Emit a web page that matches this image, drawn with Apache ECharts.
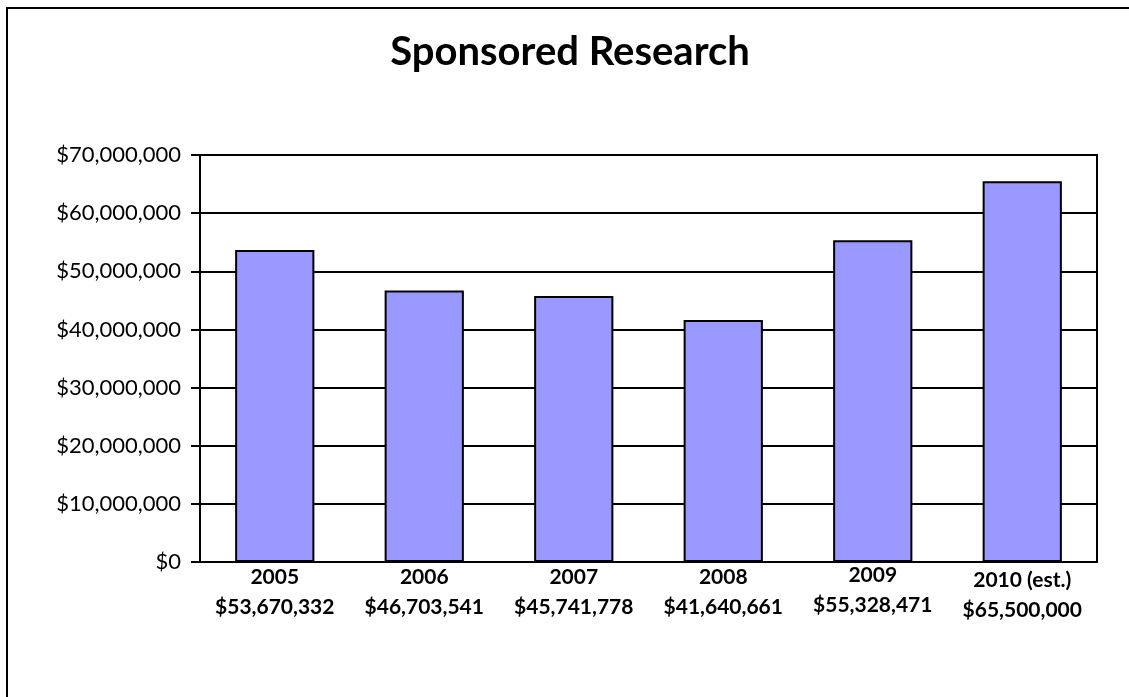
<!DOCTYPE html>
<html>
<head>
<meta charset="utf-8">
<script src="https://cdn.jsdelivr.net/npm/echarts@6/dist/echarts.min.js"></script>
<style>
html,body{margin:0;padding:0;background:#fff;}
#chart{width:1129px;height:697px;}
</style>
</head>
<body>
<div id="chart"></div>
<script>
var categories = ['2005', '2006', '2007', '2008', '2009', '2010 (est.)'];
var values = [53670332, 46703541, 45741778, 41640661, 55328471, 65500000];
var labelPads = [2, 2, 2, 2, 0, 5.5];
var yTicks = [0, 10000000, 20000000, 30000000, 40000000, 50000000, 60000000, 70000000];

function money(v) {
  return '$' + String(Math.round(v)).replace(/\B(?=(\d{3})+(?!\d))/g, ',');
}

var FONT = 'Lato, "Open Sans", sans-serif';
var chart = echarts.init(document.getElementById('chart'), null, {renderer: 'canvas'});

var catData = categories.map(function (c, i) {
  return {
    value: c + '\n' + money(values[i]),
    textStyle: {padding: [labelPads[i], 0, 0, 0]}
  };
});

chart.setOption({
  animation: false,
  backgroundColor: '#ffffff',
  title: {
    text: 'Sponsored Research',
    left: 565,
    textAlign: 'center',
    top: 27,
    textStyle: {fontFamily: FONT, fontWeight: 'bold', fontSize: 40, color: '#000'}
  },
  graphic: [{
    type: 'rect',
    shape: {x: 7, y: 8, width: 1200, height: 800},
    style: {fill: 'none', stroke: '#000', lineWidth: 2},
    silent: true
  }],
  grid: {
    left: 200, right: 32, top: 155, bottom: 135,
    show: true, borderColor: '#000', borderWidth: 2, backgroundColor: 'transparent'
  },
  xAxis: {
    type: 'category',
    data: catData,
    axisLine: {show: true, lineStyle: {color: '#000', width: 2}},
    axisTick: {show: false},
    axisLabel: {
      interval: 0,
      margin: -2,
      color: '#000',
      fontFamily: FONT,
      fontWeight: 'bold',
      fontSize: 21,
      lineHeight: 30
    }
  },
  yAxis: {
    type: 'value',
    min: 0,
    max: 70000000,
    interval: 10000000,
    axisLine: {show: true, lineStyle: {color: '#000', width: 2}},
    axisTick: {show: true, inside: false, length: 9, lineStyle: {color: '#000', width: 2}},
    splitLine: {show: true, lineStyle: {color: '#000', width: 2}},
    axisLabel: {
      margin: 19,
      color: '#000',
      fontFamily: FONT,
      fontSize: 22,
      formatter: function (v) { return money(v); }
    }
  },
  series: [{
    type: 'bar',
    data: values,
    barWidth: '53%',
    itemStyle: {color: '#9999FF', borderColor: '#000', borderWidth: 2}
  }]
});
</script>
</body>
</html>
